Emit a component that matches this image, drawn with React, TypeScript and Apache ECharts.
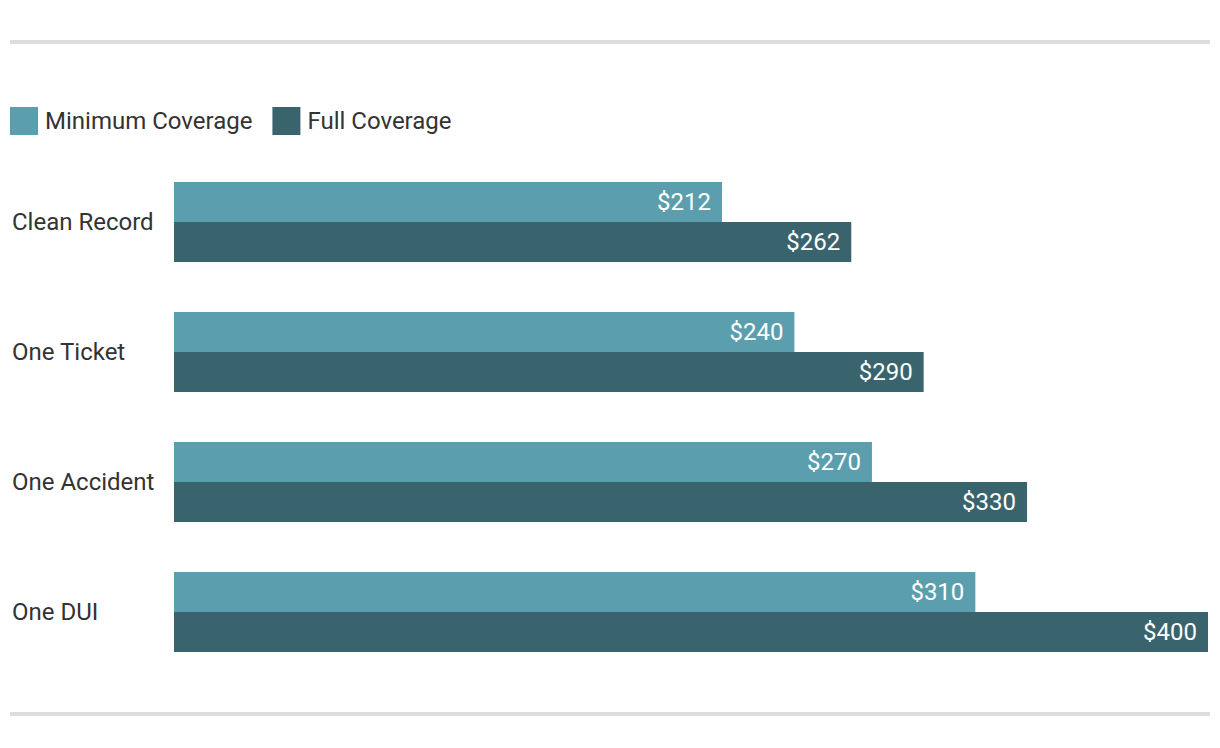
import React, { useEffect, useRef } from "react";
import * as echarts from "echarts";

const categories = ["Clean Record", "One Ticket", "One Accident", "One DUI"];
const minimumCoverage = [212, 240, 270, 310];
const fullCoverage = [262, 290, 330, 400];
const seriesNames = ["Minimum Coverage", "Full Coverage"];

export default function App() {
  const ref = useRef<HTMLDivElement>(null);
  useEffect(() => {
    document.body.style.margin = "0";
    const chart = echarts.init(ref.current!, null, { renderer: "svg" });
    const label = {
      show: true,
      position: "insideRight",
      distance: 11,
      color: "#ffffff",
      fontSize: 24,
      fontFamily: "Roboto",
      formatter: (p: any) => "$" + p.value,
    };
    chart.setOption({
      animation: false,
      backgroundColor: "#ffffff",
      textStyle: { fontFamily: "Roboto" },
      legend: {
        left: 10,
        top: 107,
        padding: 0,
        itemWidth: 28,
        itemHeight: 28,
        itemGap: 20,
        icon: "rect",
        textStyle: { fontSize: 24, color: "#333333", fontFamily: "Roboto", padding: [0, 0, 0, 2] },
        data: seriesNames,
      },
      grid: { left: 174, right: 12, top: 157, bottom: 71 },
      xAxis: {
        type: "value",
        min: 0,
        max: 400,
        show: false,
      },
      yAxis: {
        type: "category",
        inverse: true,
        data: categories,
        axisLine: { show: false },
        axisTick: { show: false },
        axisLabel: {
          align: "left",
          margin: 162,
          fontSize: 24,
          color: "#333333",
          fontFamily: "Roboto",
        },
      },
      series: [
        {
          name: seriesNames[0],
          type: "bar",
          data: minimumCoverage,
          barWidth: 40,
          barGap: "0%",
          itemStyle: { color: "#5b9fae" },
          label,
        },
        {
          name: seriesNames[1],
          type: "bar",
          data: fullCoverage,
          barWidth: 40,
          barGap: "0%",
          itemStyle: { color: "#39646d" },
          label,
        },
      ],
      graphic: [
        {
          type: "line",
          shape: { x1: 10, y1: 42, x2: 1210, y2: 42 },
          style: { stroke: "#dddddd", lineWidth: 4 },
        },
        {
          type: "line",
          shape: { x1: 10, y1: 714, x2: 1210, y2: 714 },
          style: { stroke: "#dddddd", lineWidth: 4 },
        },
      ],
    });
    return () => chart.dispose();
  }, []);
  return <div ref={ref} style={{ width: 1220, height: 748 }} />;
}
